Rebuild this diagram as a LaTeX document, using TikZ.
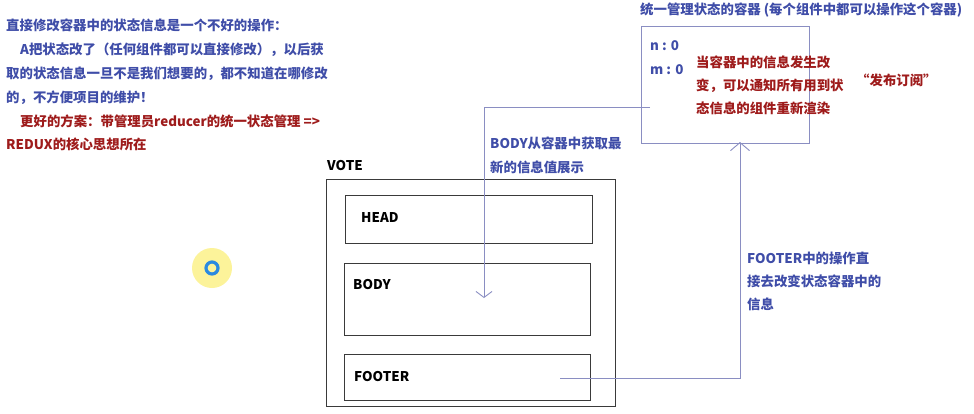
\documentclass[tikz,border=0pt]{standalone}
\usepackage{fontspec}
\setmainfont{Noto Sans CJK SC}
\usepackage{tikz}
\usetikzlibrary{arrows.meta,positioning}
\definecolor{NoteBlue}  {HTML}{3F4DA8}
\definecolor{NoteRed}   {HTML}{9E1B1B}
\definecolor{LinkLine}  {HTML}{8A8EC2}
\definecolor{BoxLine}   {HTML}{3A3A3A}
\definecolor{CursorGlow}{HTML}{FCF39A}
\definecolor{CursorRing}{HTML}{2A8AE0}

\begin{document}
\begin{tikzpicture}[x=1pt,y=-1pt,
    txt/.style={anchor=west,inner sep=0pt,font=\bfseries\fontsize{13.4}{15}\selectfont},
    part/.style={draw=BoxLine,line width=0.9pt,anchor=north west,inner sep=0pt},
    link/.style={draw=LinkLine,line width=0.9pt}]
  \useasboundingbox (0,0) rectangle (974,413);

  % notes on the left
  \node[txt,text=NoteBlue] (note1) at (6,25) {直接修改容器中的状态信息是一个不好的操作：};
  \node[txt,text=NoteBlue] (note2) at (20,50) {A把状态改了（任何组件都可以直接修改），以后获};
  \node[txt,text=NoteBlue] (note3) at (6,74) {取的状态信息一旦不是我们想要的，都不知道在哪修改};
  \node[txt,text=NoteBlue] (note4) at (6,98) {的，不方便项目的维护！};
  \node[txt,text=NoteRed] (note5) at (20,121) {更好的方案：带管理员reducer的统一状态管理 =>};
  \node[txt,text=NoteRed] (note6) at (6,144) {REDUX的核心思想所在};

  % the store
  \node[txt,text=NoteBlue] (title) at (640,10) {统一管理状态的容器 (每个组件中都可以操作这个容器)};
  \node[part,draw=LinkLine,minimum width=168pt,minimum height=117pt] (store) at (641,26) {};
  \node[txt,text=NoteBlue] (nval) at (650,46) {n : 0};
  \node[txt,text=NoteBlue] (mval) at (650,70) {m : 0};
  \node[txt,text=NoteRed,align=left,font=\bfseries\fontsize{13.4}{23}\selectfont] (notify) at (696,85)
    {当容器中的信息发生改\\变，可以通知所有用到状\\态信息的组件重新渲染};
  \node[txt,text=NoteRed] (pubsub) at (856,80) {“发布订阅”};

  % the VOTE component
  \node[txt,text=black] (votelbl) at (327,166) {VOTE};
  \node[part,minimum width=289pt,minimum height=227pt] (vote) at (326,179) {};
  \node[part,minimum width=247pt,minimum height=48pt] (head) at (345,195) {};
  \node[part,minimum width=246pt,minimum height=72pt] (body) at (344,263) {};
  \node[part,minimum width=246pt,minimum height=46pt] (footer) at (344,354) {};
  \node[txt,text=black] (headlbl) at (361,218) {HEAD};
  \node[txt,text=black] (bodylbl) at (353,285) {BODY};
  \node[txt,text=black] (footlbl) at (354,377) {FOOTER};

  % flows
  \coordinate (tap) at (650,107);
  \coordinate (drop) at (484,298);
  \draw[link,-{Straight Barb[length=6pt,width=16pt]}] (tap) -| (drop);
  \node[txt,text=NoteBlue,align=left,font=\bfseries\fontsize{13.4}{24}\selectfont] (readnote) at (490,155)
    {BODY从容器中获取最\\新的信息值展示};

  \coordinate (push) at (560,378);
  \coordinate (hit) at (740,142);
  \draw[link,-{Straight Barb[length=8pt,width=19pt]}] (push) -| (hit);
  \node[txt,text=NoteBlue,align=left,font=\bfseries\fontsize{13.4}{23}\selectfont] (writenote) at (747,281)
    {FOOTER中的操作直\\接去改变状态容器中的\\信息};

  % cursor mark
  \fill[CursorGlow] (212,268) circle (20pt);
  \draw[CursorRing,line width=3.2pt] (212,268) circle (6pt);
\end{tikzpicture}
\end{document}
